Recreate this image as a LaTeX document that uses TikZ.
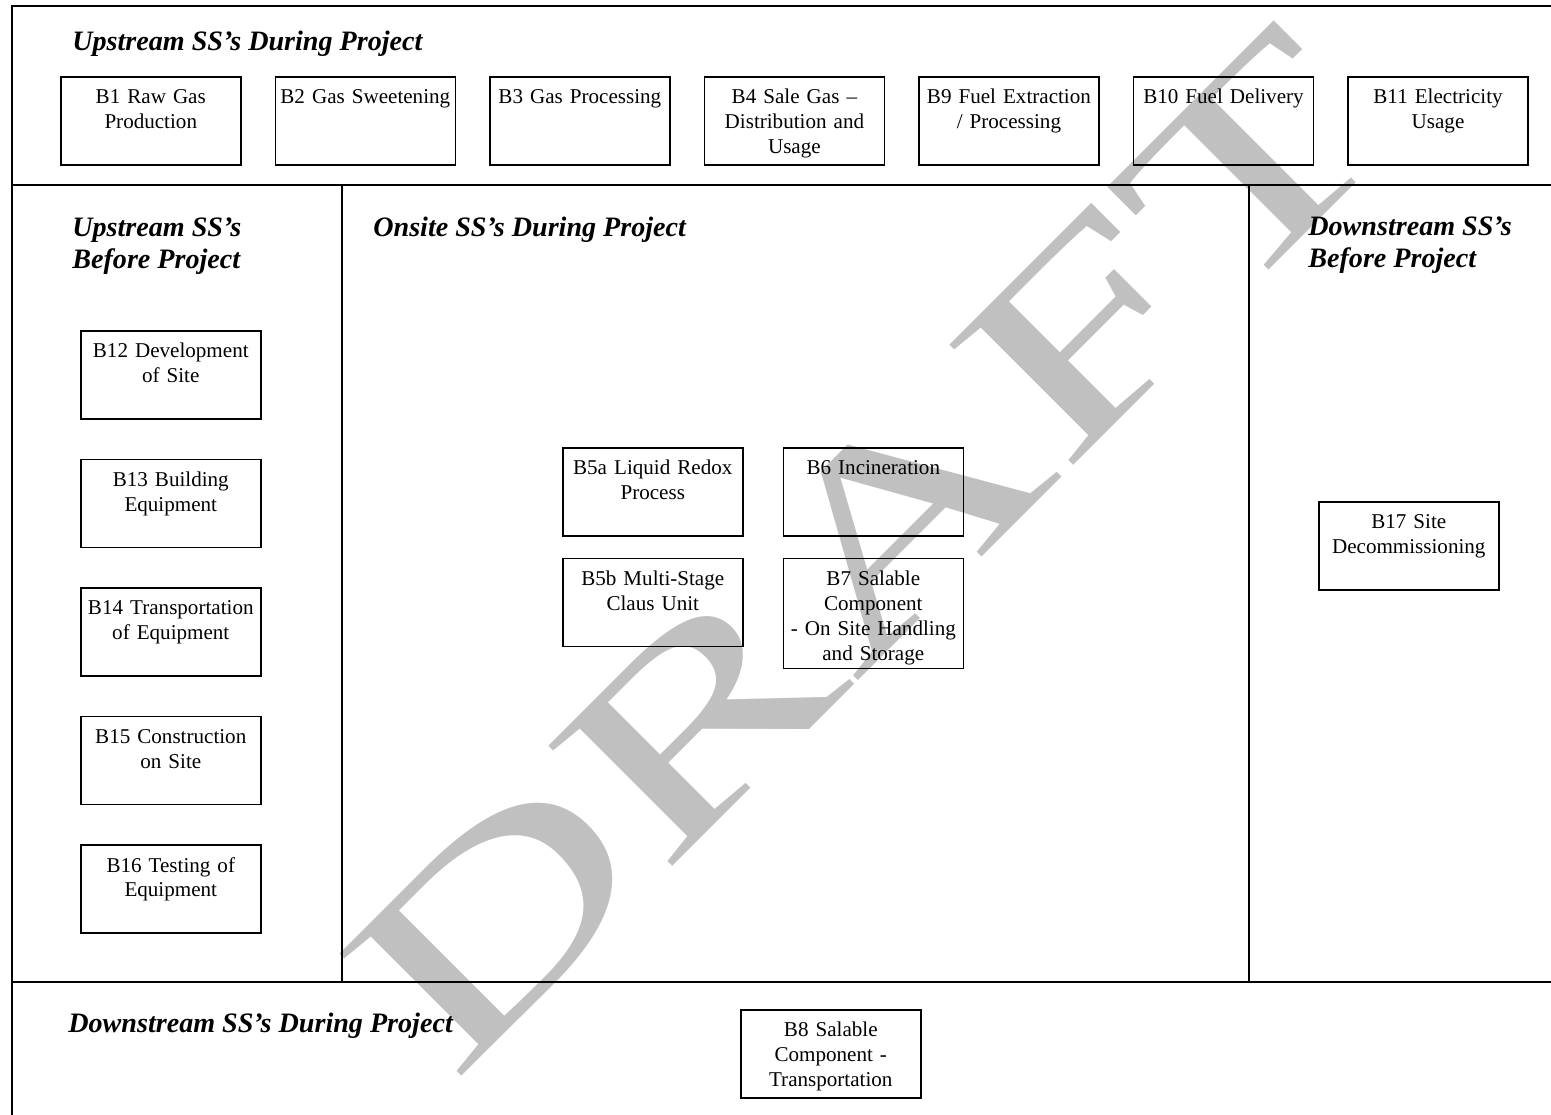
\documentclass[tikz,border=0pt]{standalone}
\usepackage{fontspec}
\setmainfont{Liberation Serif}
\usetikzlibrary{positioning}
\definecolor{watermark}{HTML}{C0C0C0}

\begin{document}
\begin{tikzpicture}[
  x=0.02cm, y=-0.02cm,
  node distance=0.66cm,
  panel/.style={font=\fontsize{16}{18.2}\selectfont\bfseries\itshape,
    anchor=base west, inner sep=0pt, align=left},
  ss/.style={draw, line width=0.9pt, anchor=north west,
    font=\fontsize{12}{14.2}\selectfont, text width=3.5cm, align=center,
    inner xsep=0.05cm, inner ysep=0pt, text height=0.54cm, text depth=1.22cm},
  tall/.style={text depth=1.66cm},
  frame/.style={line width=0.9pt}
]
\useasboundingbox (0,0) rectangle (1551,1115);
\clip (0,0) rectangle (1551,1115);

% watermark behind everything
\node[rotate=45, inner sep=0pt, text=watermark,
      font=\fontsize{150}{150}\selectfont] (draft) at (866,550)
  {\scalebox{1.55}[1]{DRAFT}};

% panel frame
\draw[frame] (12,1200) -- (12,6) -- (1600,6);
\draw[frame] (12,185) -- (1600,185);
\draw[frame] (12,982) -- (1600,982);
\draw[frame] (342,185) -- (342,982);
\draw[frame] (1249,185) -- (1249,982);

% panel titles
\node[panel] (updur) at (72,51) {Upstream SS’s During Project};
\node[panel] (upbef) at (72,268) {Upstream SS’s\\Before Project};
\node[panel] (onsite) at (373,236) {Onsite SS’s During Project};
\node[panel] (dnbef) at (1308,267) {Downstream SS’s\\Before Project};
\node[panel] (dndur) at (68,1032) {Downstream SS’s During Project};

% upstream during project
\node[ss] (B1) at (60,76) {B1 Raw Gas\\Production};
\node[ss, right=of B1] (B2) {B2 Gas Sweetening};
\node[ss, right=of B2] (B3) {B3 Gas Processing};
\node[ss, right=of B3] (B4) {B4 Sale Gas –\\Distribution and\\Usage};
\node[ss, right=of B4] (B9) {B9 Fuel Extraction\\/ Processing};
\node[ss, right=of B9] (B10) {B10 Fuel Delivery};
\node[ss, right=of B10] (B11) {B11 Electricity\\Usage};

% upstream before project
\node[ss] (B12) at (80,330) {B12 Development\\of Site};
\node[ss, below=0.78cm of B12] (B13) {B13 Building\\Equipment};
\node[ss, below=0.78cm of B13] (B14) {B14 Transportation\\of Equipment};
\node[ss, below=0.78cm of B14] (B15) {B15 Construction\\on Site};
\node[ss, below=0.78cm of B15] (B16) {B16 Testing of\\Equipment};

% onsite
\node[ss] (B5a) at (562,447) {B5a Liquid Redox\\Process};
\node[ss, right=0.78cm of B5a] (B6) {B6 Incineration};
\node[ss, below=0.42cm of B5a] (B5b) {B5b Multi-Stage\\Claus Unit};
\node[ss, tall, below=0.42cm of B6] (B7)
  {B7 Salable\\Component\\- On Site Handling\\and Storage};

% downstream
\node[ss] (B17) at (1318,501) {B17 Site\\Decommissioning};
\node[ss] (B8) at (740,1009) {B8 Salable\\Component -\\Transportation};
\end{tikzpicture}
\end{document}
